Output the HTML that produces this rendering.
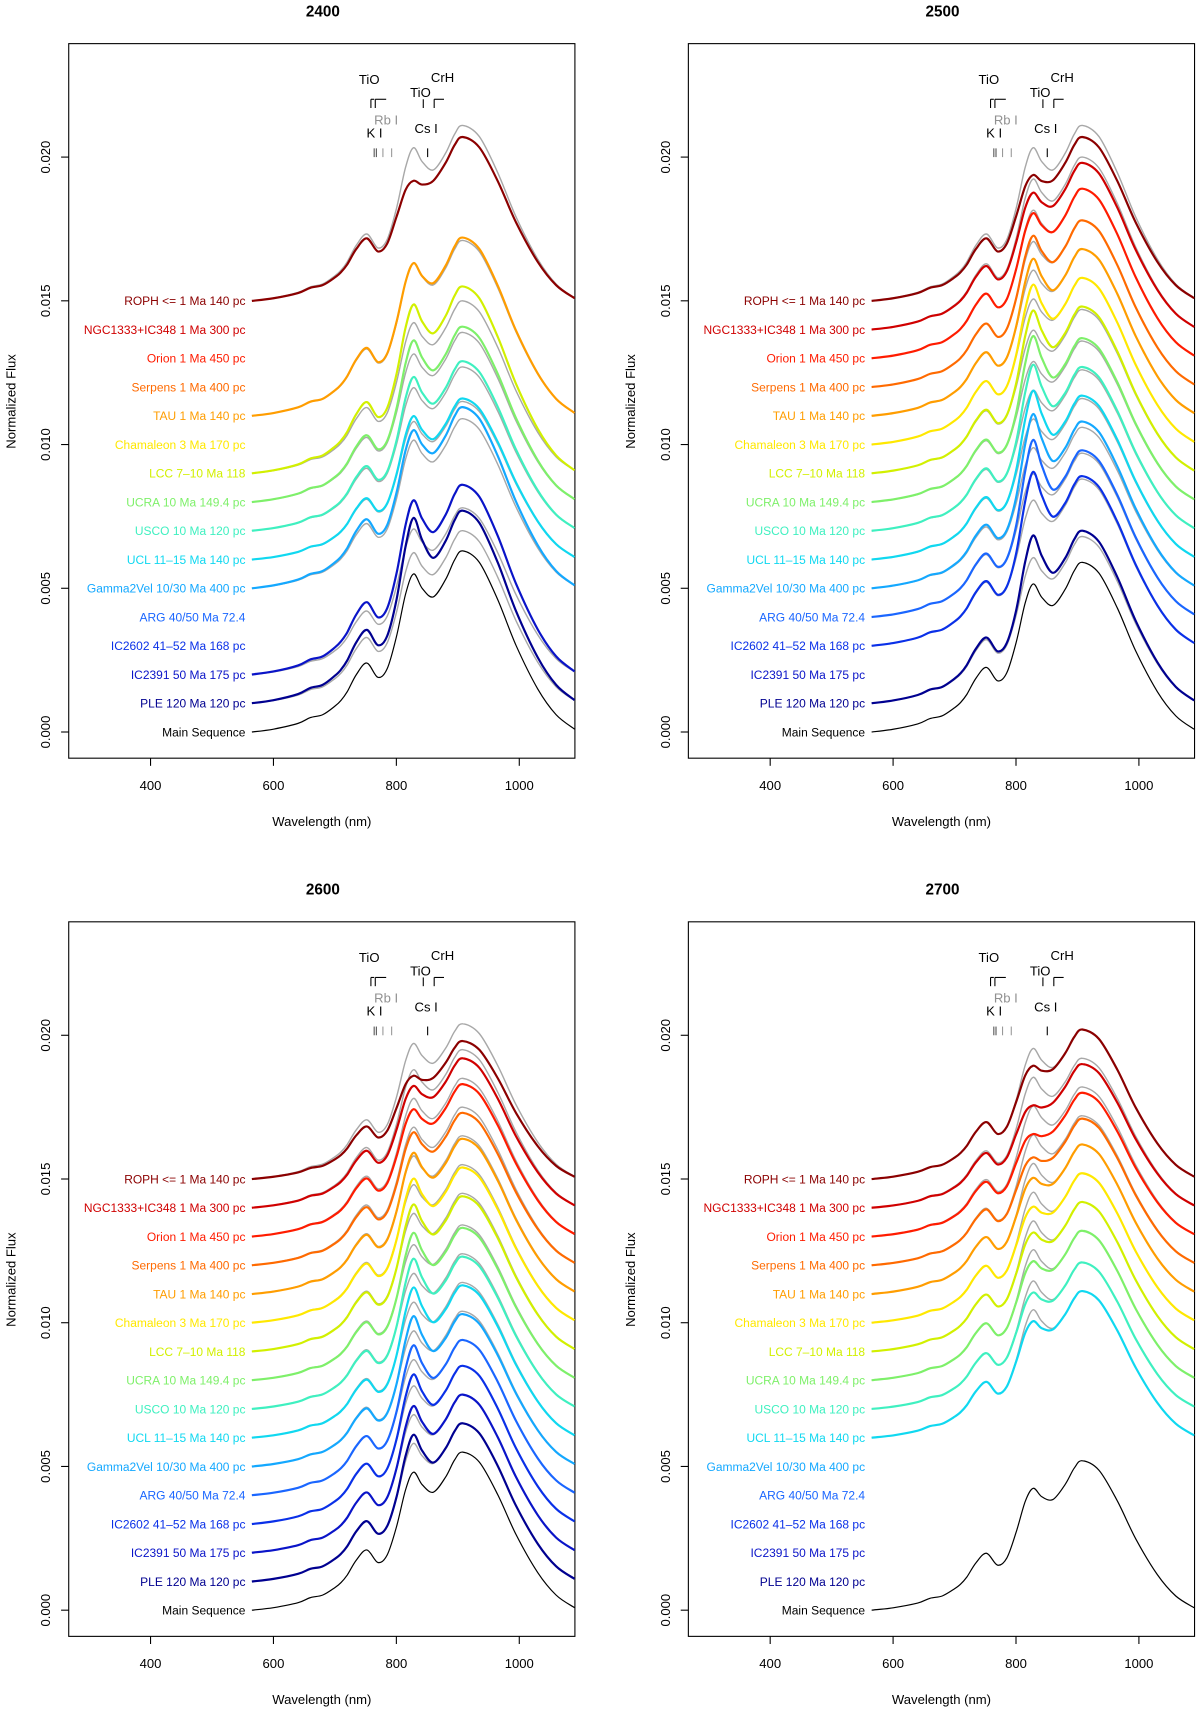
<!DOCTYPE html>
<html><head><meta charset="utf-8">
<style>
html,body{margin:0;padding:0;background:#fff;}
svg{display:block;font-family:"Liberation Sans",Arial,sans-serif;}
</style></head>
<body>
<svg width="1200" height="1714" viewBox="0 0 1200 1714" xmlns="http://www.w3.org/2000/svg"><g id="chart" transform="scale(1.090909)"></g></svg>
<script>
// ---- data ----
const seriesNames = ["ROPH <= 1 Ma 140 pc","NGC1333+IC348 1 Ma 300 pc","Orion 1 Ma 450 pc","Serpens 1 Ma 400 pc","TAU 1 Ma 140 pc","Chamaleon 3 Ma 170 pc","LCC 7\u201310 Ma 118","UCRA 10 Ma 149.4 pc","USCO 10 Ma 120 pc","UCL 11\u201315 Ma 140 pc","Gamma2Vel 10/30 Ma 400 pc","ARG 40/50 Ma 72.4","IC2602 41\u201352 Ma 168 pc","IC2391 50 Ma 175 pc","PLE 120 Ma 120 pc","Main Sequence"];
const seriesColors = ["#8b0000","#d00000","#ff1c00","#ff6a00","#ff9d00","#ffe800","#d2f000","#7ef06a","#3ff0c0","#10d8f0","#14a8ff","#1a66ff","#0a30e8","#0a14c8","#000090","#000000"];
const seriesOffsets = [0.015,0.014,0.013,0.012,0.011,0.010,0.009,0.008,0.007,0.006,0.005,0.004,0.003,0.002,0.001,0.000];
const templateWl = [565,600,640,660,680,700,710,720,735,752,770,785,800,815,828,842,860,880,895,908,935,965,995,1030,1060,1090];
const templateFlux = [0,0.0001,0.0003,0.0005,0.0006,0.0009,0.0011,0.0014,0.0020,0.0024,0.0019,0.0022,0.0033,0.0048,0.0055,0.0050,0.0047,0.0053,0.0060,0.0063,0.0059,0.0046,0.0030,0.0015,0.0006,0.0001];
const bumpShape = [0,0,0,0,0,0,0,0,0,0,0,0,0.1,0.6,1,0.6,0.1,0,0,0,0,0,0,0,0,0];
const panelTitles = ["2400","2500","2600","2700"];
const amp2400 = [0.0057,null,null,null,0.0062,null,0.0065,0.0061,0.0059,0.0056,0.0063,null,null,0.0066,0.0067,0.0063];
const amp2500 = [0.0057,0.0058,0.0059,0.0058,0.0058,0.0058,0.0058,0.0057,0.0057,0.0057,0.0058,0.0058,0.0059,null,0.0060,0.0059];
const amp2600 = [0.0048,0.0052,0.0053,0.0053,0.0054,0.0054,0.0054,0.0053,0.0053,0.0053,0.0053,0.0054,0.0055,0.0055,0.0055,0.0055];
const amp2700 = [0.0052,0.0050,0.0050,0.0051,0.0052,0.0052,0.0052,0.0052,0.0051,0.0051,null,null,null,null,null,0.0052];
const bump2400 = [-0.0008,0,0,0,-0.0001,0,0.0002,0.0003,0.0002,0.0001,0,0,0,0.0003,0.0006,0];
const bump2500 = [-0.0006,-0.0003,-0.0001,0.0002,0.0004,0.0005,0.0006,0.0008,0.0008,0.0009,0.0010,0.0011,0.0009,0,0.0006,0];
const bump2600 = [-0.0006,-0.0003,-0.0002,0,0.0002,0.0003,0.0004,0.0005,0.0006,0.0006,0.0006,0.0005,0.0004,0.0003,0.0003,0];
const bump2700 = [-0.0006,-0.0008,-0.0008,-0.0007,-0.0005,-0.0005,-0.0004,-0.0004,-0.0004,-0.0004,0,0,0,0,0,-0.0003];
const grayAmp2400 = [0.0061,null,null,null,0.0061,null,0.0060,0.0059,0.0057,0.0055,0.0059,null,null,0.0058,0.0060,null];
const grayAmp2500 = [0.0061,0.0060,0.0059,0.0058,0.0058,0.0058,0.0057,0.0056,0.0056,0.0056,0.0056,0.0057,0.0058,null,0.0058,null];
const grayAmp2600 = [0.0054,0.0055,0.0055,0.0055,0.0055,0.0055,0.0055,0.0054,0.0054,0.0054,0.0054,0.0054,0.0055,0.0055,0.0055,null];
const grayAmp2700 = [0.0052,0.0052,0.0052,0.0052,0.0052,0.0052,0.0052,0.0052,0.0051,0.0051,null,null,null,null,null,null];
const xTicks = [400,600,800,1000];
const yTicks = [0,0.005,0.010,0.015,0.020];
const yTickLabels = ["0.000","0.005","0.010","0.015","0.020"];

const panelAmps=[amp2400,amp2500,amp2600,amp2700];
const panelBumps=[bump2400,bump2500,bump2600,bump2700];
const panelGray=[grayAmp2400,grayAmp2500,grayAmp2600,grayAmp2700];
const panelPos=[[0,0],[568,0],[0,805],[568,805]];

const NS="http://www.w3.org/2000/svg";
const svg=document.getElementById('chart');
function mk(tag,attrs,parent){const e=document.createElementNS(NS,tag);for(const k in attrs)e.setAttribute(k,attrs[k]);(parent||svg).appendChild(e);return e;}
const tMax=Math.max(...templateFlux);

function pathFrom(pts){
  let d="M"+pts[0][0].toFixed(1)+","+pts[0][1].toFixed(1);
  for(let i=0;i<pts.length-1;i++){
    const p0=pts[Math.max(0,i-1)],p1=pts[i],p2=pts[i+1],p3=pts[Math.min(pts.length-1,i+2)];
    const c1=[p1[0]+(p2[0]-p0[0])/6,p1[1]+(p2[1]-p0[1])/6];
    const c2=[p2[0]-(p3[0]-p1[0])/6,p2[1]-(p3[1]-p1[1])/6];
    d+="C"+c1[0].toFixed(1)+","+c1[1].toFixed(1)+" "+c2[0].toFixed(1)+","+c2[1].toFixed(1)+" "+p2[0].toFixed(1)+","+p2[1].toFixed(1);
  }
  return d;
}

panelTitles.forEach((title,pi)=>{
  const dx=panelPos[pi][0],dy=panelPos[pi][1];
  const X=w=>138+dx+(w-400)*(338/600);
  const Y=f=>671+dy-f*26350;
  const g=mk('g',{});
  
  
  const t=mk('text',{x:296+dx,y:15+dy,'text-anchor':'middle','font-size':14,'font-weight':'bold'},g);
  t.textContent=title;
  
  
  const box=mk('rect',{x:63+dx,y:40+dy,width:464,height:655,fill:'none',stroke:'#000','stroke-width':1},g);
  
  
  xTicks.forEach(v=>{
    mk('line',{x1:X(v),x2:X(v),y1:695+dy,y2:702+dy,stroke:'#000'},g);
    const tl=mk('text',{x:X(v),y:724+dy,'text-anchor':'middle','font-size':12},g);
    tl.textContent=v;
    
    
  });
  const xl=mk('text',{x:295+dx,y:757+dy,'text-anchor':'middle','font-size':12},g);
  xl.textContent='Wavelength (nm)';
  
  
  yTicks.forEach((v,i)=>{
    mk('line',{x1:56+dx,x2:63+dx,y1:Y(v),y2:Y(v),stroke:'#000'},g);
    const tl=mk('text',{x:46+dx,y:Y(v),'text-anchor':'middle','font-size':12,transform:`rotate(-90 ${46+dx} ${Y(v)})`},g);
    tl.textContent=yTickLabels[i];
    
    
  });
  const yl=mk('text',{x:14+dx,y:368+dy,'text-anchor':'middle','font-size':12,transform:`rotate(-90 ${14+dx} ${368+dy})`},g);
  yl.textContent='Normalized Flux';
  
  
  seriesNames.forEach((n,i)=>{
    const l=mk('text',{x:225+dx,y:Y(seriesOffsets[i])+4,'text-anchor':'end','font-size':11,fill:seriesColors[i]},g);
    l.textContent=n;
    
    
  });
  const amps=panelAmps[pi],bumps=panelBumps[pi],grays=panelGray[pi];
  const clip=mk('clipPath',{id:'clip'+pi},g);
  mk('rect',{x:63+dx,y:40+dy,width:464,height:655},clip);
  const cg=mk('g',{'clip-path':`url(#clip${pi})`},g);
  seriesNames.forEach((n,i)=>{
    if(grays[i]==null)return;
    const pts=templateWl.map((w,k)=>[X(w),Y(seriesOffsets[i]+grays[i]*templateFlux[k]/tMax)]);
    const p=mk('path',{d:pathFrom(pts),fill:'none',stroke:'#a8a8a8','stroke-width':1.3},cg);
    
    
  });
  seriesNames.forEach((n,i)=>{
    if(amps[i]==null)return;
    const pts=templateWl.map((w,k)=>[X(w),Y(seriesOffsets[i]+amps[i]*templateFlux[k]/tMax+bumps[i]*bumpShape[k])]);
    const p=mk('path',{d:pathFrom(pts),fill:'none',stroke:seriesColors[i],'stroke-width':i==15?1.1:2},cg);
    
    
  });
  const an=mk('g',{'font-size':12},g);
  
  
  const txt=(s,x,y,c)=>{const e=mk('text',{x:x+dx,y:y+dy,fill:c||'#000'},an);e.textContent=s;return e;};
  txt('TiO',329,77);txt('CrH',395,75);txt('TiO',376,89);
  txt('Rb I',343,114,'#909090');txt('K I',336,126);txt('Cs I',380,122);
  const ln=(x1,y1,x2,y2,c)=>mk('line',{x1:x1+dx,y1:y1+dy,x2:x2+dx,y2:y2+dy,stroke:c||'#000','stroke-width':1},an);
  ln(340,91,340,99);ln(340,91,343,91);ln(344,91,344,99);ln(344,91,354,91);
  ln(388,91,388,99);ln(398,91,398,99);ln(398,91,407,91);
  ln(343,136,343,144,'#555');ln(345,136,345,144,'#555');ln(351,136,351,144,'#999');ln(359,136,359,144,'#999');
  ln(392,136,392,144);
});
</script>
</body></html>
